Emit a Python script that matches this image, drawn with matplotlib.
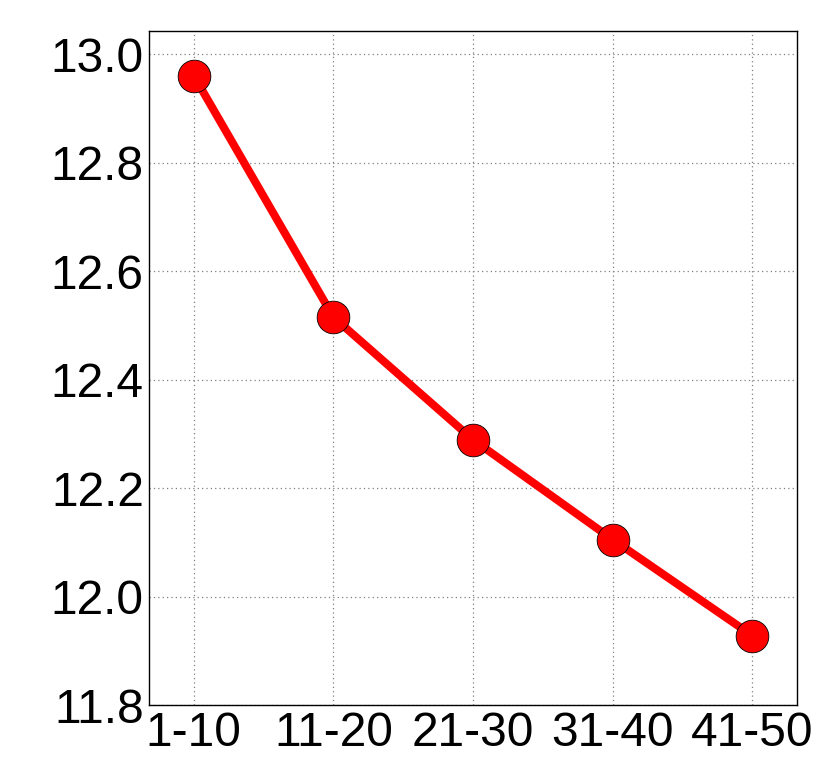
"""
Line chart of mean value per rank bucket
"""
import matplotlib
matplotlib.use('Agg')
import matplotlib.pyplot as plt
import numpy as np

# data
buckets = ['1-10', '11-20', '21-30', '31-40', '41-50']
values = [12.960, 12.515, 12.289, 12.105, 11.928]
yticks = [11.8, 12.0, 12.2, 12.4, 12.6, 12.8, 13.0]

plt.rcParams['font.family'] = ['Liberation Sans', 'DejaVu Sans']

fig = plt.figure(figsize=(8.3, 7.67), dpi=100)
ax = fig.add_axes([0.18, 0.0808, 0.7799, 0.8792])

x = np.arange(len(buckets))
ax.plot(x, values, color='red', linewidth=5.8, marker='o', markersize=23.5,
        markerfacecolor='red', markeredgecolor='black', markeredgewidth=0.6,
        zorder=3)

ax.set_xlim(-0.318, 4.318)
ax.set_ylim(11.8, 13.043)
ax.set_xticks(x)
ax.set_xticklabels(buckets)
ax.set_yticks(yticks)
ax.set_yticklabels([f'{v:.1f}' for v in yticks])

ax.grid(True, color='#808080', linestyle=(0, (1, 2.5)), linewidth=0.9)
ax.tick_params(axis='both', which='both', length=0, labelsize=34.5, pad=4)

for spine in ax.spines.values():
    spine.set_linewidth(1.0)
    spine.set_color('black')

fig.savefig('out.png', dpi=100, facecolor='white')
plt.close(fig)
